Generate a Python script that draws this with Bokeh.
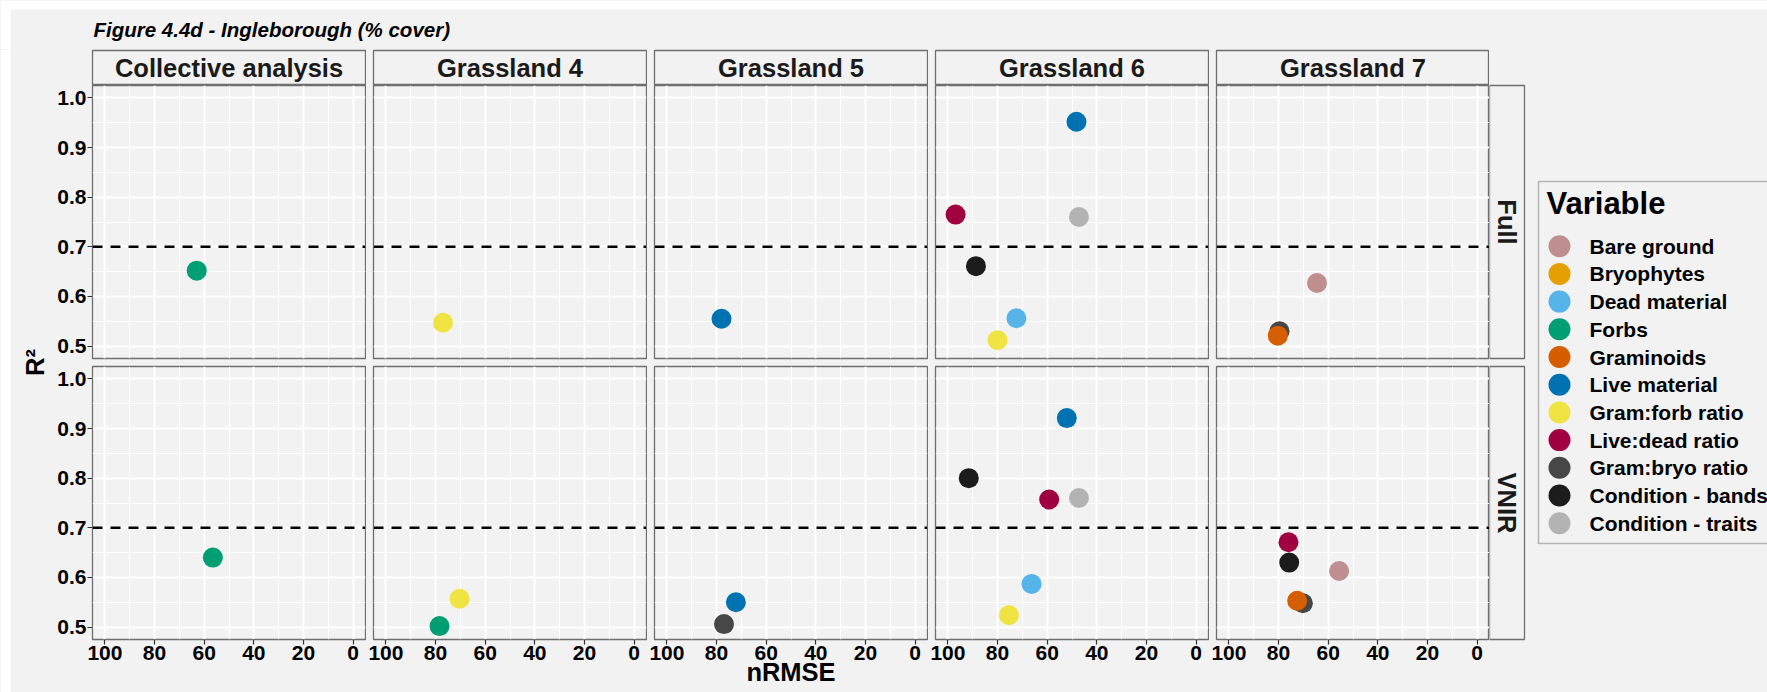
import math
from bokeh.plotting import figure
from bokeh.models import Range1d, FixedTicker, Span, ColumnDataSource, BoxAnnotation
from bokeh.layouts import row, column
from bokeh.embed import file_html
from bokeh.resources import INLINE
from bokeh.core.properties import value

# ---------------- data ----------------
TITLE = "Figure 4.4d - Ingleborough (% cover)"
FACETS = ["Collective analysis", "Grassland 4", "Grassland 5", "Grassland 6", "Grassland 7"]
MODELS = ["Full", "VNIR"]
LEGEND_TITLE = "Variable"
VARIABLES = ["Bare ground", "Bryophytes", "Dead material", "Forbs", "Graminoids",
             "Live material", "Gram:forb ratio", "Live:dead ratio", "Gram:bryo ratio",
             "Condition - bands", "Condition - traits"]
COLORS = ["#BF8F8F", "#E69F00", "#56B4E9", "#009E73", "#D55E00",
          "#0072B2", "#F0E442", "#A00040", "#474747", "#1C1C1C", "#B3B3B3"]
X_TITLE = "nRMSE"
Y_TITLE = "R\u00b2"
X_TICKS = [0, 20, 40, 60, 80, 100]
X_TICK_LABELS = ["0", "20", "40", "60", "80", "100"]
X_MINOR = [10, 30, 50, 70, 90]
Y_TICKS = [0.5, 0.6, 0.7, 0.8, 0.9, 1.0]
Y_TICK_LABELS = ["0.5", "0.6", "0.7", "0.8", "0.9", "1.0"]
Y_MINOR = [0.55, 0.65, 0.75, 0.85, 0.95]
X_LIMITS = [0, 100]
Y_LIMITS = [0.5, 1.0]
THRESHOLD = 0.7

pt_facet = ["Collective analysis", "Grassland 4", "Grassland 5",
            "Grassland 6", "Grassland 6", "Grassland 6", "Grassland 6", "Grassland 6", "Grassland 6",
            "Grassland 7", "Grassland 7", "Grassland 7",
            "Collective analysis", "Grassland 4", "Grassland 4", "Grassland 5", "Grassland 5",
            "Grassland 6", "Grassland 6", "Grassland 6", "Grassland 6", "Grassland 6", "Grassland 6",
            "Grassland 7", "Grassland 7", "Grassland 7", "Grassland 7", "Grassland 7"]
pt_model = ["Full"] * 12 + ["VNIR"] * 16
pt_variable = ["Forbs", "Gram:forb ratio", "Live material",
               "Live material", "Live:dead ratio", "Condition - traits", "Condition - bands",
               "Dead material", "Gram:forb ratio",
               "Bare ground", "Gram:bryo ratio", "Graminoids",
               "Forbs", "Forbs", "Gram:forb ratio", "Gram:bryo ratio", "Live material",
               "Live material", "Condition - bands", "Live:dead ratio", "Condition - traits",
               "Dead material", "Gram:forb ratio",
               "Live:dead ratio", "Condition - bands", "Bare ground", "Gram:bryo ratio", "Graminoids"]
pt_nrmse = [63.0, 77.0, 78.0,
            48.2, 96.9, 47.2, 88.7, 72.4, 80.0,
            64.5, 79.6, 80.3,
            56.5, 78.4, 70.3, 77.0, 72.2,
            52.1, 91.6, 59.2, 47.2, 66.3, 75.4,
            76.0, 75.7, 55.6, 70.2, 72.5]
pt_r2 = [0.652, 0.547, 0.555,
         0.952, 0.765, 0.760, 0.661, 0.556, 0.512,
         0.627, 0.530, 0.521,
         0.640, 0.502, 0.557, 0.506, 0.550,
         0.921, 0.800, 0.757, 0.760, 0.587, 0.524,
         0.671, 0.630, 0.613, 0.548, 0.553]

# ---------------- style / layout ----------------
FONT = "Liberation Sans"
BG = "#f2f2f2"
BORDER = "#6e6e6e"
STRIP_TEXT = "#1a1a1a"
PANEL = 273
GAP = 7
LEFT_AXIS = 44
TITLE_H = 49
STRIP_H = 35
TOTAL_H = 692
TOTAL_W = 1767
YLAB_W = 48
RSTRIP_W = 35
WHITE_TOP, WHITE_LEFT = 9, 10          # white page edge visible in the reference
MAIN_H = TOTAL_H - TITLE_H
PANEL_TOP = TITLE_H + 1 + STRIP_H
PANEL_BOTTOM = PANEL_TOP + 2 * PANEL + GAP + 1
B_BOTTOM = TOTAL_H - PANEL_BOTTOM
PANELS_W = (LEFT_AXIS + PANEL + 1) + 3 * (GAP + PANEL + 1) + (GAP + PANEL)
RIGHT_W = TOTAL_W - YLAB_W - PANELS_W
RIGHT_X0 = YLAB_W + PANELS_W

xpad = 0.05 * (X_LIMITS[1] - X_LIMITS[0])
ypad = 0.05 * (Y_LIMITS[1] - Y_LIMITS[0])
color_of = dict(zip(VARIABLES, COLORS))


def base_fig(**kw):
    opts = dict(toolbar_location=None, output_backend="svg", min_border=0,
                background_fill_color=BG, border_fill_color=BG, outline_line_color=None,
                x_axis_location=None, y_axis_location=None)
    opts.update(kw)
    return figure(**opts)


def hide_grid(p):
    for g in p.grid:
        g.visible = False


def col_borders(ci):
    left = LEFT_AXIS if ci == 0 else GAP
    right = 0 if ci == len(FACETS) - 1 else 1
    return left, right


def panel(ci, ri):
    left_b, right_b = col_borders(ci)
    bottom = ri == len(MODELS) - 1
    p = base_fig(frame_width=PANEL, frame_height=PANEL,
                 x_range=Range1d(X_LIMITS[1] + xpad, X_LIMITS[0] - xpad),
                 y_range=Range1d(Y_LIMITS[0] - ypad, Y_LIMITS[1] + ypad),
                 x_axis_location="below" if bottom else None,
                 y_axis_location="left" if ci == 0 else None,
                 min_border_left=left_b, min_border_right=right_b,
                 min_border_top=1 if ri == 1 else 0,
                 min_border_bottom=B_BOTTOM if bottom else GAP,
                 outline_line_color=BORDER, outline_line_width=1.3)
    p.xgrid.ticker = FixedTicker(ticks=X_TICKS, minor_ticks=X_MINOR)
    p.ygrid.ticker = FixedTicker(ticks=Y_TICKS, minor_ticks=Y_MINOR)
    for g in p.grid:
        g.grid_line_color = "white"
        g.grid_line_width = 2
        g.minor_grid_line_color = "white"
        g.minor_grid_line_width = 1.1
    if bottom:
        ax = p.xaxis[0]
        ax.ticker = FixedTicker(ticks=X_TICKS)
        ax.major_label_overrides = dict(zip(X_TICKS, X_TICK_LABELS))
        if ci == len(FACETS) // 2:          # middle panel carries the shared x title
            ax.axis_label = X_TITLE
            ax.axis_label_standoff = -5
            ax.axis_label_text_font = FONT
            ax.axis_label_text_font_size = "25.5px"
            ax.axis_label_text_font_style = "bold"
            ax.axis_label_text_color = "black"
    if ci == 0:
        ax = p.yaxis[0]
        ax.ticker = FixedTicker(ticks=Y_TICKS)
        ax.major_label_overrides = dict(zip(Y_TICKS, Y_TICK_LABELS))
    for ax in p.axis:
        ax.axis_line_color = None
        ax.major_tick_line_color = "#333333"
        ax.major_tick_line_width = 1.2
        ax.major_tick_out = 5
        ax.major_tick_in = 0
        ax.minor_tick_line_color = None
        ax.major_label_standoff = 1
        ax.major_label_text_font = FONT
        ax.major_label_text_font_size = "21px"
        ax.major_label_text_font_style = "bold"
        ax.major_label_text_color = "black"

    p.add_layout(Span(location=THRESHOLD, dimension="width", line_color="black",
                      line_width=2.5, line_dash="10 8"))
    fac, mod = FACETS[ci], MODELS[ri]
    idx = [i for i in range(len(pt_nrmse)) if pt_facet[i] == fac and pt_model[i] == mod]
    src = ColumnDataSource(dict(x=[pt_nrmse[i] for i in idx], y=[pt_r2[i] for i in idx],
                                c=[color_of[pt_variable[i]] for i in idx]))
    p.scatter("x", "y", source=src, size=20, fill_color="c", line_color=None)
    return p


def col_strip(ci):
    left_b, right_b = col_borders(ci)
    p = base_fig(frame_width=PANEL, frame_height=STRIP_H, x_range=Range1d(0, 1), y_range=Range1d(0, 1),
                 min_border_left=left_b, min_border_right=right_b, min_border_top=1,
                 outline_line_color=BORDER, outline_line_width=1.3)
    hide_grid(p)
    p.text(x=[0.5], y=[0.5], text=[FACETS[ci]], text_align="center", text_baseline="middle",
           text_font=value(FONT), text_font_size="25.5px", text_font_style="bold",
           text_color=STRIP_TEXT)
    return p


def white_band(p, **kw):
    p.add_layout(BoxAnnotation(fill_color="white", fill_alpha=1, line_color=None, level="underlay", **kw))


# ---- title ----
title_fig = base_fig(width=TOTAL_W, height=TITLE_H, x_range=Range1d(0, TOTAL_W), y_range=Range1d(TITLE_H, 0))
hide_grid(title_fig)
white_band(title_fig, top=0, bottom=WHITE_TOP)
white_band(title_fig, left=0, right=WHITE_LEFT)
title_fig.text(x=[93], y=[28.5], text=[TITLE], text_align="left", text_baseline="middle",
               text_font=value(FONT), text_font_size="20.5px", text_font_style="bold italic",
               text_color="black")

# ---- y title (ranges in page pixels) ----
ylab_fig = base_fig(frame_width=YLAB_W, frame_height=MAIN_H,
                    x_range=Range1d(0, YLAB_W), y_range=Range1d(TOTAL_H, TITLE_H))
hide_grid(ylab_fig)
white_band(ylab_fig, left=0, right=WHITE_LEFT)
ylab_fig.text(x=[34], y=[(PANEL_TOP + PANEL_BOTTOM) / 2], text=[Y_TITLE], angle=math.pi / 2,
              text_align="center", text_baseline="middle", text_font=value(FONT),
              text_font_size="25.5px", text_font_style="bold", text_color="black")

# ---- panels ----
strips = row([col_strip(c) for c in range(len(FACETS))], styles={"background-color": BG})
upper = row([panel(c, 0) for c in range(len(FACETS))], styles={"background-color": BG})
lower = row([panel(c, 1) for c in range(len(FACETS))], styles={"background-color": BG})
center = column([strips, upper, lower], styles={"background-color": BG})

# ---- right side: row strips + legend, ranges in page pixels ----
right = base_fig(frame_width=RIGHT_W, frame_height=MAIN_H,
                 x_range=Range1d(RIGHT_X0, RIGHT_X0 + RIGHT_W),
                 y_range=Range1d(TOTAL_H, TITLE_H))
hide_grid(right)
strip_top = [PANEL_TOP, PANEL_TOP + PANEL + GAP + 1]
strip_src = ColumnDataSource(dict(left=[RIGHT_X0] * 2, right=[RIGHT_X0 + RSTRIP_W] * 2,
                                  top=strip_top, bottom=[t + PANEL for t in strip_top],
                                  xc=[RIGHT_X0 + RSTRIP_W / 2] * 2, yc=[t + PANEL / 2 for t in strip_top],
                                  label=MODELS))
right.quad(left="left", right="right", top="top", bottom="bottom", source=strip_src,
           fill_color=BG, line_color=BORDER, line_width=1.3)
right.text("xc", "yc", text="label", source=strip_src, angle=-math.pi / 2, text_align="center",
           text_baseline="middle", text_font=value(FONT), text_font_size="25.5px",
           text_font_style="bold", text_color=STRIP_TEXT)

# legend box / entries (page pixel positions)
n = len(VARIABLES)
LEG_LEFT, LEG_TOP, LEG_BOTTOM = 1538, 181, 543
first_y, step_y = 245.7, 27.7
right.add_layout(BoxAnnotation(left=LEG_LEFT, right=TOTAL_W + 30, top=LEG_TOP, bottom=LEG_BOTTOM,
                               fill_color=None, line_color="#222222", line_width=1.5, level="underlay"))
right.text(x=[1546], y=[203], text=[LEGEND_TITLE], text_align="left", text_baseline="middle",
           text_font=value(FONT), text_font_size="31px", text_font_style="bold", text_color="black")
leg_src = ColumnDataSource(dict(x=[1559] * n, tx=[1589] * n,
                                y=[first_y + step_y * i for i in range(n)], c=COLORS, t=VARIABLES))
right.scatter("x", "y", source=leg_src, size=22, fill_color="c", line_color=None)
right.text("tx", "y", text="t", source=leg_src, text_align="left", text_baseline="middle",
           text_font=value(FONT), text_font_size="21px", text_font_style="bold", text_color="black")

main = row([ylab_fig, center, right], styles={"background-color": BG})
layout = column([title_fig, main], styles={"background-color": BG})

open("out.html", "w").write(file_html(layout, INLINE))
